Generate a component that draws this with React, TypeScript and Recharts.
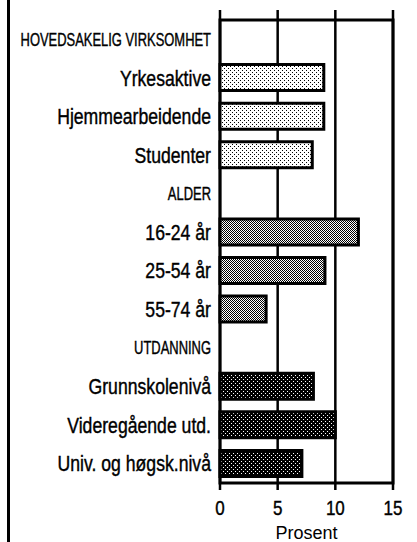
import React from "react";
import { BarChart, Bar, XAxis, YAxis, CartesianGrid, Cell, ReferenceArea } from "recharts";

// Sysselsetting etter virksomhet, alder og utdanning (prosent)
const categories = [
  "HOVEDSAKELIG VIRKSOMHET",
  "Yrkesaktive",
  "Hjemmearbeidende",
  "Studenter",
  "ALDER",
  "16-24 år",
  "25-54 år",
  "55-74 år",
  "UTDANNING",
  "Grunnskolenivå",
  "Videregående utd.",
  "Univ. og høgsk.nivå",
];
const values: (number | null)[] = [null, 9, 9, 8, null, 12, 9.1, 4, null, 8.1, 10, 7.1];
const groups = ["header", "light", "light", "light", "header", "medium", "medium", "medium", "header", "dark", "dark", "dark"];
const xTicks = [0, 5, 10, 15];
const title = "2. kv. 1993 - 3. kv. 1995";

const data = categories.map((name, i) => ({ name, value: values[i], group: groups[i] }));

const FONT = "'Liberation Sans', Arial, sans-serif";

// the original uses a condensed Helvetica, so squeeze the glyphs horizontally
function CategoryTick(props: any) {
  const { y, payload, index } = props;
  const isHeader = groups[index] === "header";
  return (
    <g transform={`translate(211,${y})`}>
      <text
        transform={isHeader ? "scale(0.74,1)" : "scale(0.82,1)"}
        x={0}
        y={0}
        textAnchor="end"
        dominantBaseline="central"
        fontFamily={FONT}
        fontSize={isHeader ? 17.5 : 21.5}
        fill="#000"
        stroke="#000"
        strokeWidth={0.4}
      >
        {payload.value}
      </text>
    </g>
  );
}

function ValueTick(props: any) {
  const { x, y, payload } = props;
  return (
    <g transform={`translate(${x},${y})`}>
      <text transform="scale(0.85,1)" x={0} y={0} dy={15} textAnchor="middle" fontFamily={FONT} fontSize={20} fill="#000" stroke="#000" strokeWidth={0.4}>
        {payload.value}
      </text>
    </g>
  );
}

export default function App() {
  return (
    <div style={{ position: "absolute", left: 0, top: 0, width: 417, height: 542, overflow: "hidden", background: "#fff", fontFamily: FONT }}>
      <div style={{ position: "absolute", left: 22, top: -17, fontSize: 19, whiteSpace: "nowrap" }}>{title}</div>
      <div style={{ position: "absolute", left: 7, top: 0, width: 3, height: 542, background: "#000" }} />
      <BarChart
        width={417}
        height={542}
        data={data}
        layout="vertical"
        margin={{ top: 10, right: 24, bottom: 0, left: 0 }}
        barSize={26}
      >
        <defs>
          <pattern id="light" width="4" height="4" patternUnits="userSpaceOnUse">
            <rect width="4" height="4" fill="#fff" />
            <rect x="0" y="0" width="1" height="1" fill="#000" shapeRendering="crispEdges" />
            <rect x="2" y="2" width="1" height="1" fill="#000" shapeRendering="crispEdges" />
          </pattern>
          <pattern id="medium" width="2" height="2" patternUnits="userSpaceOnUse">
            <rect width="2" height="2" fill="#fff" />
            <rect x="0" y="0" width="1" height="1" fill="#000" shapeRendering="crispEdges" />
            <rect x="1" y="1" width="1" height="1" fill="#000" shapeRendering="crispEdges" />
          </pattern>
          <pattern id="dark" width="4" height="4" patternUnits="userSpaceOnUse">
            <rect width="4" height="4" fill="#000" />
            <rect x="1" y="1" width="1" height="1" fill="#fff" shapeRendering="crispEdges" />
            <rect x="3" y="3" width="1" height="1" fill="#fff" shapeRendering="crispEdges" />
          </pattern>
        </defs>
        <CartesianGrid horizontal={false} stroke="#000" strokeWidth={2.5} />
        <ReferenceArea x1={0} x2={15} fill="none" stroke="#000" strokeWidth={3} ifOverflow="visible" />
        <XAxis
          type="number"
          domain={[0, 15]}
          ticks={xTicks}
          axisLine={false}
          tickLine={false}
          tickMargin={4}
          height={52}
          tick={<ValueTick />}
          label={{ value: "Prosent", position: "insideBottom", offset: 3, fontSize: 18, fill: "#000", fontFamily: FONT }}
        />
        <YAxis
          type="category"
          dataKey="name"
          width={220}
          axisLine={false}
          tickLine={false}
          interval={0}
          padding={{ top: 10, bottom: 7 }}
          tick={<CategoryTick />}
        />
        <Bar dataKey="value" stroke="#000" strokeWidth={3} isAnimationActive={false}>
          {data.map((d, i) => (
            <Cell key={i} fill={d.group === "header" ? "none" : `url(#${d.group})`} />
          ))}
        </Bar>
      </BarChart>
    </div>
  );
}
